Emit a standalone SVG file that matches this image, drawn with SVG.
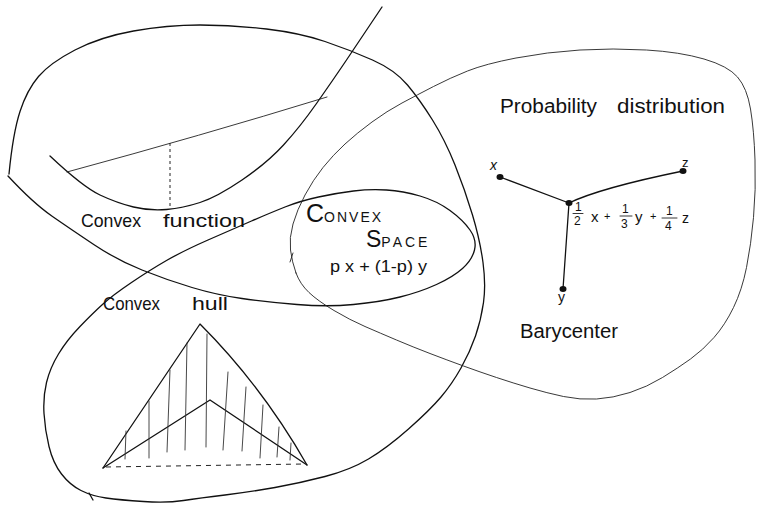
<svg xmlns="http://www.w3.org/2000/svg" width="758" height="505" viewBox="0 0 758 505">
<style>
.ln{fill:none;stroke:#111;stroke-width:1.3;stroke-linecap:round;stroke-linejoin:round}
.thin{fill:none;stroke:#222;stroke-width:0.9;stroke-linecap:round;stroke-linejoin:round}
.hatch{fill:none;stroke:#333;stroke-width:0.9;stroke-linecap:round}
.dash{fill:none;stroke:#222;stroke-width:1;stroke-dasharray:3,3}
.t{font-family:"Liberation Sans","DejaVu Sans",sans-serif;fill:#111}
.num{font-family:"Liberation Sans","DejaVu Sans",sans-serif;fill:#111;font-size:12px}
.dot{fill:#111}
</style>
<rect width="758" height="505" fill="#fff"/>
<g id="connectors">
<path id="main-loop" class="ln" d="M9,174 Q13,133 20,111.5 Q27,90 38.5,76.5 Q50,63 75,50 Q100,37 133.5,31 Q167,25 200,25 Q233,25 266.5,29 Q300,33 325,41.5 Q350,50 372.5,60 Q395,70 407.5,85 Q420,100 432.5,120 Q445,140 455,165 Q465,190 472.5,215 Q480,240 483,262.5 Q486,285 483.5,302.5 Q481,320 475.5,336 Q470,352 461,368 Q452,384 441,397 Q430,410 408.5,429 Q387,448 368.5,459 Q350,470 325,476.5 Q300,483 275,487.5 Q250,492 225,495 Q200,498 183.5,500.5 Q167,503 143.5,501.5 Q120,500 106,498 Q92,496 81,490.5 Q70,485 61.5,474 Q53,463 49,446.5 Q45,430 44,413.5 Q43,397 46.5,382.5 Q50,368 58.5,354 Q67,340 80,326.5 Q93,313 103,304 Q113,295 131.5,282.5 Q150,270 166.5,260.5 Q183,251 208,240 Q233,229 251.5,221 Q270,213 285,207 Q300,201 318.5,197 Q337,193 353.5,191 Q370,189 386.5,190 Q403,191 420,196 Q437,201 450,210.5 Q463,220 470,230 Q477,240 474.5,250 Q472,260 462.5,268.5 Q453,277 436.5,284.5 Q420,292 400,297 Q380,302 353.5,304.5 Q327,307 297,304.5 Q267,302 242,298.5 Q217,295 192,287.5 Q167,280 142,270 Q117,260 94.5,245 Q72,230 52.5,216.5 Q33,203 8,176"/>
<path class="ln" d="M89,493 L93,500"/>
<path id="probability-loop" class="thin" d="M296,273 Q292,262 290.5,250 Q289,238 293,224 Q297,210 305,195 Q313,180 323,167.5 Q333,155 345,144 Q357,133 372,122 Q387,111 402,103 Q417,95 433.5,86.5 Q450,78 467.5,71 Q485,64 516,58 Q547,52 580,50 Q613,48 646.5,50 Q680,52 704,59 Q728,66 737.5,77 Q747,88 750.5,109 Q754,130 755,160 Q756,190 753.5,217.5 Q751,245 746.5,267.5 Q742,290 733.5,307.5 Q725,325 714,337.5 Q703,350 690.5,359 Q678,368 662.5,377.5 Q647,387 630,392.5 Q613,398 596.5,399 Q580,400 563.5,396.5 Q547,393 530,388 Q513,383 496.5,377.5 Q480,372 463.5,366 Q447,360 430,353.5 Q413,347 396.5,340 Q380,333 365,326.5 Q350,320 334,310.5 Q318,301 309,292.5 Q300,284 296,273 Z"/>
<path class="thin" d="M290,262 L293,253"/>
</g>
<g id="convex-function">
<path class="ln" d="M50,156 Q83,187 100,195 Q117,203 133.5,207 Q150,211 166.5,209.5 Q183,208 200,202.5 Q217,197 242,180 Q267,163 283.5,145 Q300,127 316.5,103.5 Q333,80 346.5,60 Q360,40 382,7"/>
<path class="thin" d="M67,172 Q200,136 327,97"/>
<path class="dash" d="M170,143 L170,209"/>
<text class="t" x="81" y="227" font-size="19" textLength="60" lengthAdjust="spacingAndGlyphs">Convex</text>
<text class="t" x="163" y="227" font-size="19" textLength="82" lengthAdjust="spacingAndGlyphs">function</text>
</g>
<g id="convex-space">
<text class="t" x="306" y="222"><tspan font-size="25">C</tspan><tspan font-size="14" letter-spacing="2">ONVEX</tspan></text>
<text class="t" x="366" y="247"><tspan font-size="23">S</tspan><tspan font-size="14" letter-spacing="3">PACE</tspan></text>
<text class="t" x="330" y="272" font-size="16" textLength="97" lengthAdjust="spacingAndGlyphs">p x + (1-p) y</text>
</g>
<g id="convex-hull">
<text class="t" x="103" y="310" font-size="19" textLength="57" lengthAdjust="spacingAndGlyphs">Convex</text>
<text class="t" x="192" y="310" font-size="19" textLength="36" lengthAdjust="spacingAndGlyphs">hull</text>
<path class="ln" d="M103,468 L200,324 Q262,386 307,465"/>
<path class="ln" d="M103,468 L210,400 L307,465"/>
<path class="dash" d="M106,467 L305,464" style="stroke-dasharray:5,5"/>
<path class="hatch" d="M126,431 L125,459 M149,401 L149,458 M170,370 L167,452 M187,343 L185,450 M207,334 L206,447 M228,372 L223,450 M246,387 L242,451 M263,405 L260,458 M279,427 L277,457 M291,443 L290,460"/>
</g>
<g id="probability-distribution">
<text class="t" x="500" y="113" font-size="20" textLength="97" lengthAdjust="spacingAndGlyphs">Probability</text>
<text class="t" x="617" y="113" font-size="20" textLength="108" lengthAdjust="spacingAndGlyphs">distribution</text>
</g>
<g id="barycenter">
<path class="ln" d="M569,203 L500,177 M569,203 Q600,188 683,171 M569,203 L563,289"/>
<ellipse class="dot" cx="500" cy="177" rx="3.5" ry="3"/>
<ellipse class="dot" cx="683" cy="171" rx="3.5" ry="3"/>
<ellipse class="dot" cx="569" cy="203" rx="3.5" ry="3"/>
<ellipse class="dot" cx="563" cy="289" rx="3.5" ry="3"/>
<text class="t" x="490" y="170" font-size="14" font-style="italic">x</text>
<text class="t" x="682" y="167" font-size="13">z</text>
<text class="t" x="558" y="302" font-size="14">y</text>
<g id="formula">
<text class="num" x="575" y="211">1</text>
<path class="thin" d="M573,213.5 L583,213.5"/>
<text class="num" x="574" y="225">2</text>
<text class="t" x="591" y="222" font-size="15">x</text>
<text class="t" x="604" y="220" font-size="11">+</text>
<text class="num" x="622" y="213">1</text>
<path class="thin" d="M620,216 L632,216"/>
<text class="num" x="621" y="228">3</text>
<text class="t" x="635" y="222" font-size="15">y</text>
<text class="t" x="650" y="220" font-size="11">+</text>
<text class="num" x="666" y="215">1</text>
<path class="thin" d="M662,218 L677,218"/>
<text class="num" x="665" y="230">4</text>
<text class="t" x="682" y="223" font-size="14">z</text>
</g>
<text class="t" x="520" y="338" font-size="20" textLength="98" lengthAdjust="spacingAndGlyphs">Barycenter</text>
</g>
</svg>
